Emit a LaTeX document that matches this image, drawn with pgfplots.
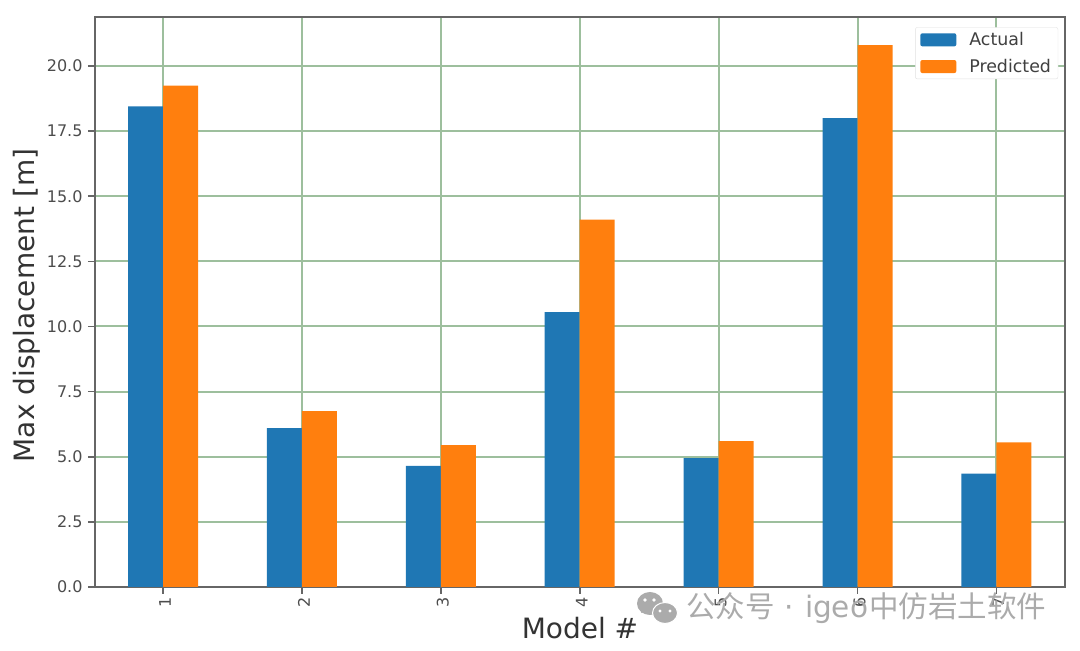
\documentclass[border=0pt]{standalone}
\usepackage{pgfplots}
\pgfplotsset{compat=1.18}
\usepackage{fontspec}
\setmainfont{DejaVu Sans}
\newfontfamily\cjk{Noto Sans CJK SC}
\definecolor{mplblue}{HTML}{1F77B4}
\definecolor{mplorange}{HTML}{FF7F0E}
\definecolor{gridgreen}{HTML}{9DBF9D}
\definecolor{spine}{HTML}{666666}
\definecolor{wmark}{HTML}{ABABAB}
\begin{document}
\begin{tikzpicture}
\path[use as bounding box] (0,0) rectangle (1080pt,651pt);
\begin{axis}[
  at={(95pt,64pt)},anchor=south west,
  width=970pt,height=570pt,scale only axis,
  ybar=0pt,bar width=35pt,
  xmin=-0.49,xmax=6.494,ymin=0,ymax=21.88,
  xtick=data,xticklabels={1,2,3,4,5,6,7},
  ytick={0,2.5,5,7.5,10,12.5,15,17.5,20},
  yticklabels={0.0,2.5,5.0,7.5,10.0,12.5,15.0,17.5,20.0},
  x tick label style={rotate=90,font=\fontsize{16}{18}\selectfont,text=black!70,yshift=-2pt},
  y tick label style={font=\fontsize{16}{18}\selectfont,text=black!70,xshift=-2pt},
  xlabel={Model \#},ylabel={Max displacement [m]},
  label style={font=\fontsize{28}{32}\selectfont,text=black!80},
  xlabel style={yshift=-3pt},
  ylabel style={yshift=0pt,xshift=-3.5pt},
  grid=major,grid style={gridgreen,line width=2pt},
  axis line style={spine,line width=2pt},
  tick style={spine,line width=1.6pt},
  major tick length=7pt,
  tick align=outside,xtick pos=lower,ytick pos=left,
  legend style={at={(0.993,0.982)},anchor=north east,font=\fontsize{17.4}{24}\selectfont,
    text=black!75,draw=black!12,fill=white,rounded corners=2pt,
    inner xsep=5pt,inner ysep=3pt,row sep=8pt},
  legend cell align=left,
  legend image code/.code={\fill[#1] (0pt,-6.5pt) rectangle (36pt,6.5pt);\path (47pt,0pt);},
]
\addplot[fill=mplblue,draw=none] coordinates {(0,18.45)(1,6.1)(2,4.65)(3,10.55)(4,4.95)(5,18.0)(6,4.35)};
\addplot[fill=mplorange,draw=none] coordinates {(0,19.25)(1,6.75)(2,5.45)(3,14.1)(4,5.6)(5,20.8)(6,5.55)};
\legend{Actual,Predicted}
\end{axis}
% watermark
\fill[wmark] (650pt,47.5pt) ellipse[x radius=13pt,y radius=11.5pt];
\fill[wmark] (641pt,38pt) -- (644pt,44pt) -- (649pt,40pt) -- cycle;
\fill[white] (645pt,51pt) circle[radius=1.8pt] (654pt,51pt) circle[radius=1.8pt];
\fill[wmark,draw=white,line width=1pt] (665pt,38pt) ellipse[x radius=12.5pt,y radius=10.5pt];
\fill[white] (660pt,40pt) circle[radius=1.6pt] (670pt,40pt) circle[radius=1.6pt];
\node[anchor=west,inner sep=0pt,font=\fontsize{29.5}{32}\selectfont,text=wmark] at (686pt,43pt)
  {{\cjk 公众号}\hspace{10pt}·\hspace{11pt}igeo\hspace{1pt}{\cjk 中仿岩土软件}};
\end{tikzpicture}
\end{document}
